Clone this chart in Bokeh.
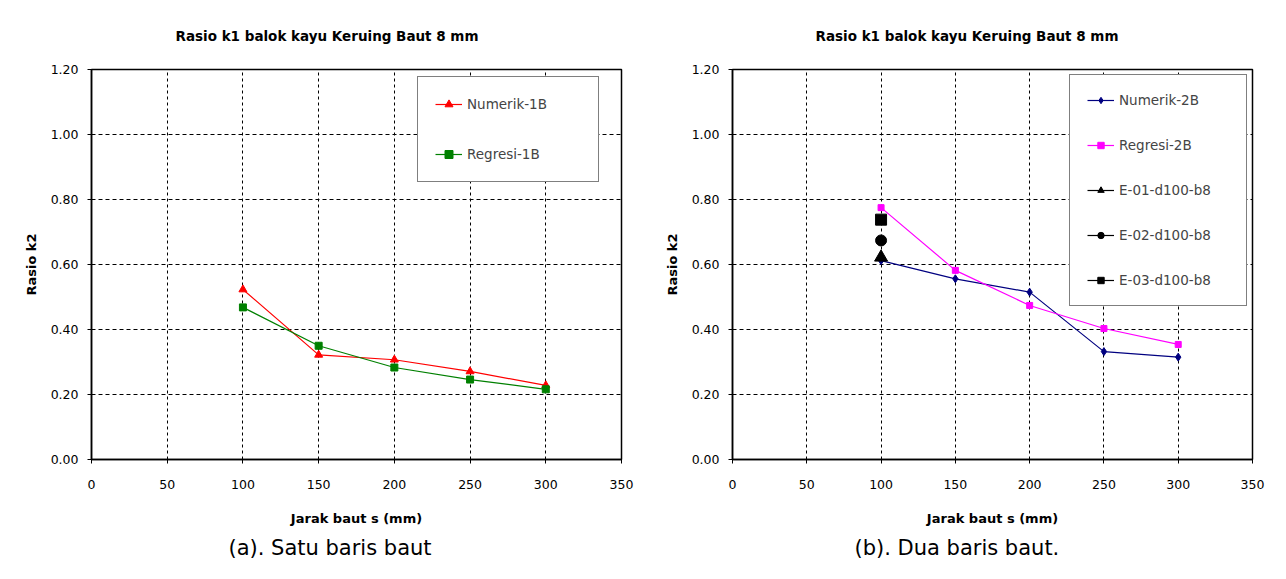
from bokeh.plotting import figure
from bokeh.layouts import row
from bokeh.models import Range1d, FixedTicker, NumeralTickFormatter, Legend, LegendItem, Title
from bokeh.embed import file_html
from bokeh.resources import INLINE

# ---------------- data ----------------
x_ticks = [0, 50, 100, 150, 200, 250, 300, 350]
y_ticks = [0.0, 0.2, 0.4, 0.6, 0.8, 1.0, 1.2]

jarak = [100, 150, 200, 250, 300]

numerik_1b = [0.523, 0.322, 0.307, 0.271, 0.228]
regresi_1b = [0.468, 0.350, 0.283, 0.246, 0.216]

numerik_2b = [0.612, 0.556, 0.515, 0.332, 0.315]
regresi_2b = [0.775, 0.582, 0.474, 0.403, 0.354]

e_jarak = [100]
e01 = [0.622]
e02 = [0.674]
e03 = [0.738]

chart_title = "Rasio k1 balok kayu Keruing Baut 8 mm"
x_label = "Jarak baut s (mm)"
y_label = "Rasio k2"
caption_a = "(a). Satu baris baut"
caption_b = "(b). Dua baris baut."

FONT = "DejaVu Sans"


def make_fig(mbl, mbr, mbt, mbb):
    p = figure(width=643, height=579, output_backend="svg", toolbar_location=None,
               x_range=Range1d(0, 350), y_range=Range1d(0, 1.2),
               min_border_left=mbl, min_border_right=mbr,
               min_border_top=mbt, min_border_bottom=mbb)
    p.background_fill_color = "white"
    p.border_fill_color = "white"
    p.outline_line_color = "black"
    p.outline_line_width = 1.5

    p.xaxis.ticker = FixedTicker(ticks=x_ticks)
    p.yaxis.ticker = FixedTicker(ticks=y_ticks)
    p.yaxis.formatter = NumeralTickFormatter(format="0.00")

    for ax in (p.xaxis, p.yaxis):
        ax.axis_line_color = "black"
        ax.axis_line_width = 1.5
        ax.major_tick_line_color = "black"
        ax.major_tick_line_width = 1
        ax.major_tick_in = 0
        ax.major_tick_out = 4
        ax.minor_tick_line_color = None
        ax.major_label_text_font = FONT
        ax.major_label_text_font_size = "12.5px"
        ax.major_label_text_color = "black"
        ax.axis_label_text_font = FONT
        ax.axis_label_text_font_size = "13px"
        ax.axis_label_text_font_style = "bold"
        ax.axis_label_text_color = "black"

    p.xaxis.axis_label = x_label
    p.yaxis.axis_label = y_label
    p.xaxis.major_label_standoff = 16
    p.xaxis.axis_label_standoff = 19
    p.yaxis.major_label_standoff = 9
    p.yaxis.axis_label_standoff = 9

    p.grid.grid_line_color = "black"
    p.grid.grid_line_width = 1
    p.xgrid.grid_line_dash = "3 3"
    p.ygrid.grid_line_dash = "4 3"
    return p


def add_series(p, xs, ys, color, marker, size):
    rs = []
    rs.append(p.line(xs, ys, line_color=color, line_width=1.2))
    rs.append(p.scatter(xs, ys, marker=marker, size=size,
                        fill_color=color, line_color=color))
    return rs


def add_titles(p, title_offset, caption, caption_offset):
    t = Title(text=chart_title, align="left", offset=title_offset,
              vertical_align="middle", standoff=50,
              text_font=FONT, text_font_size="13.5px", text_font_style="bold",
              text_color="black")
    p.add_layout(t, "above")
    c = Title(text=caption, align="left", offset=caption_offset,
              vertical_align="middle", standoff=12,
              text_font=FONT, text_font_size="21px", text_font_style="normal",
              text_color="black")
    p.add_layout(c, "below")


# ---------------- left chart ----------------
p1 = make_fig(91, 22, 69, 120)
r_n1 = add_series(p1, jarak, numerik_1b, "#FF0000", "triangle", 8)
r_r1 = add_series(p1, jarak, regresi_1b, "#008000", "square", 7)

leg1 = Legend(items=[LegendItem(label="Numerik-1B", renderers=r_n1),
                     LegendItem(label="Regresi-1B", renderers=r_r1)],
              location=(326, 277), padding=17, spacing=30,
              glyph_width=27, glyph_height=20, label_height=20,
              label_width=114, label_standoff=5,
              border_line_color="black", border_line_width=1,
              background_fill_color="white", background_fill_alpha=1,
              label_text_font=FONT, label_text_font_size="13.5px")
p1.add_layout(leg1)
add_titles(p1, 84, caption_a, 137)

# ---------------- right chart ----------------
p2 = make_fig(89, 34, 69, 120)
r_n2 = add_series(p2, jarak, numerik_2b, "#000080", "diamond", 8)
r_r2 = add_series(p2, jarak, regresi_2b, "#FF00FF", "square", 6)
r_e1 = add_series(p2, e_jarak, e01, "black", "triangle", 13)
r_e2 = add_series(p2, e_jarak, e02, "black", "circle", 11)
r_e3 = add_series(p2, e_jarak, e03, "black", "square", 11)

leg2 = Legend(items=[LegendItem(label="Numerik-2B", renderers=r_n2),
                     LegendItem(label="Regresi-2B", renderers=r_r2),
                     LegendItem(label="E-01-d100-b8", renderers=r_e1),
                     LegendItem(label="E-02-d100-b8", renderers=r_e2),
                     LegendItem(label="E-03-d100-b8", renderers=r_e3)],
              location=(337, 153), padding=17, spacing=29,
              glyph_width=27, glyph_height=16, label_height=16,
              label_width=110, label_standoff=5,
              border_line_color="black", border_line_width=1,
              background_fill_color="white", background_fill_alpha=1,
              label_text_font=FONT, label_text_font_size="13.5px")
p2.add_layout(leg2)
add_titles(p2, 83, caption_b, 122)

layout = row(p1, p2, spacing=0)
open("out.html", "w").write(file_html(layout, INLINE))
